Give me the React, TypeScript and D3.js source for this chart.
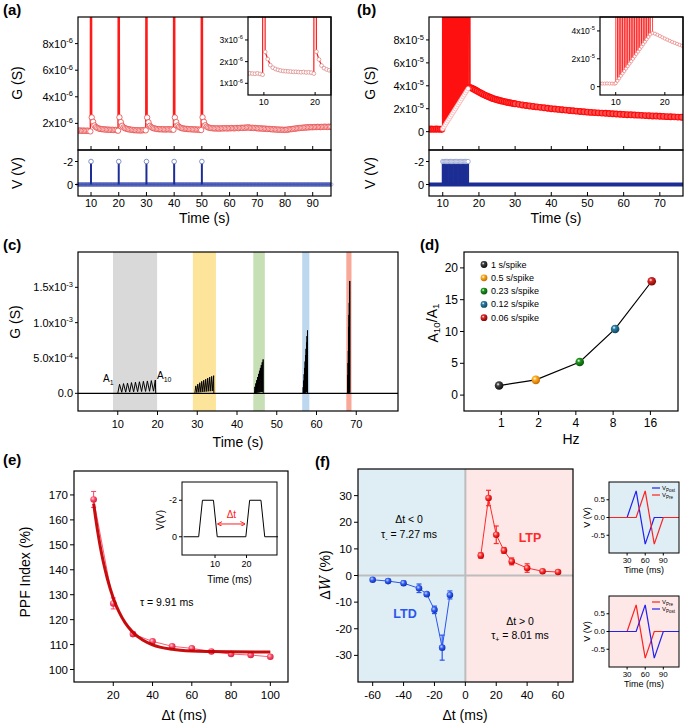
import * as d3 from 'd3'

type P = [number, number]

const FONT = "'Liberation Sans', Arial, Helvetica, sans-serif"

// ---------- (a) single spikes every 10 s ----------
const aSpikeTimes = [10, 20, 30, 40, 50]
const aSampleStart = 5.25
const aSampleStep = 0.5
// conductance, units of 1e-6 S
const aConductance = [
  1.46, 1.45, 1.47, 1.44, 1.46, 1.45, 1.44, 1.46, 1.43, 1.40,
  2.45, 2.12, 1.84, 1.72, 1.66, 1.62, 1.59, 1.57, 1.56, 1.55,
  1.54, 1.53, 1.53, 1.52, 1.51, 1.52, 1.50, 1.51, 1.49, 1.45,
  2.46, 2.10, 1.82, 1.70, 1.64, 1.60, 1.57, 1.55, 1.53, 1.52,
  1.50, 1.49, 1.48, 1.49, 1.47, 1.48, 1.47, 1.49, 1.50, 1.48,
  2.44, 2.08, 1.82, 1.72, 1.66, 1.63, 1.60, 1.58, 1.57, 1.56,
  1.56, 1.55, 1.56, 1.54, 1.55, 1.56, 1.55, 1.54, 1.55, 1.52,
  2.45, 2.10, 1.84, 1.74, 1.68, 1.64, 1.62, 1.60, 1.59, 1.58,
  1.57, 1.56, 1.56, 1.55, 1.54, 1.55, 1.53, 1.54, 1.52, 1.50,
  2.46, 2.12, 1.86, 1.76, 1.70, 1.67, 1.65, 1.64, 1.63, 1.62,
  1.62, 1.63, 1.61, 1.62, 1.63, 1.62, 1.64, 1.63, 1.62, 1.64,
  1.63, 1.65, 1.64, 1.63, 1.65, 1.66, 1.64, 1.66, 1.67, 1.66,
  1.68, 1.67, 1.69, 1.70, 1.68, 1.66, 1.67, 1.65, 1.66, 1.64,
  1.63, 1.62, 1.63, 1.61, 1.60, 1.61, 1.59, 1.58, 1.59, 1.57,
  1.56, 1.55, 1.56, 1.54, 1.53, 1.54, 1.52, 1.53, 1.52, 1.51,
  1.52, 1.53, 1.54, 1.56, 1.57, 1.58, 1.60, 1.61, 1.63, 1.64,
  1.65, 1.66, 1.67, 1.68, 1.69, 1.70, 1.70, 1.71, 1.72, 1.71,
  1.72, 1.73, 1.72, 1.74, 1.73, 1.72, 1.74, 1.73, 1.75, 1.74,
  1.73, 1.75, 1.74, 1.75,
]
const aSpikeTop = 5e-5 // off scale
const pulseV = -2

// ---------- (b) spike train, 10 - 17 s ----------
const bBaseTimes = [6.25, 6.75, 7.25, 7.75, 8.25, 8.75, 9.25, 9.75]
const bBaseG = [0.22, 0.23, 0.22, 0.22, 0.23, 0.22, 0.22, 0.21] // 1e-5 S
const bTrainStart = 10
const bTrainStep = 0.35
const bTrainG = [
  0.25, 0.42, 0.6, 0.78, 0.95, 1.12, 1.3, 1.47, 1.65, 1.82, 2.0,
  2.17, 2.35, 2.52, 2.7, 2.87, 3.05, 3.22, 3.4, 3.57, 3.75,
]
const bDecayTimes = [...d3.range(17.5, 30.01, 0.5), ...d3.range(31, 76.5, 1)]
const bDecayG = [
  3.85, 3.8, 3.72, 3.63, 3.54, 3.45, 3.37, 3.29, 3.21, 3.14, 3.07, 3.0, 2.94,
  2.88, 2.83, 2.78, 2.74, 2.7, 2.66, 2.62, 2.59, 2.55, 2.52, 2.49, 2.46, 2.43,
  2.38, 2.33, 2.28, 2.24, 2.2, 2.16, 2.12, 2.08, 2.04, 2.0,
  1.97, 1.94, 1.91, 1.88, 1.85, 1.82, 1.79, 1.76, 1.73, 1.7,
  1.68, 1.66, 1.64, 1.62, 1.6, 1.58, 1.56, 1.54, 1.52, 1.5,
  1.48, 1.47, 1.45, 1.44, 1.42, 1.4, 1.39, 1.37, 1.36, 1.34,
  1.33, 1.31, 1.3, 1.29, 1.27, 1.26,
]
const bSpikeTop = 1e-3

// ---------- (c) trains at different rates ----------
const cTrainStart = [10, 29.4, 44.4, 56.6, 67.8]
const cTrainStep = [1, 0.5, 0.23, 0.12, 0.06]
// peaks / troughs, units of 1e-4 S
const cPeaks1 = [1.28, 1.38, 1.45, 1.52, 1.58, 1.64, 1.7, 1.75, 1.8, 1.88]
const cPeaks2 = [1.05, 1.3, 1.5, 1.7, 1.85, 2.0, 2.15, 2.3, 2.4, 2.5]
const cPeaks3 = [0.92, 1.4, 1.85, 2.3, 2.75, 3.2, 3.6, 4.0, 4.4, 4.8]
const cPeaks4 = [0.86, 1.8, 2.7, 3.6, 4.5, 5.4, 6.3, 7.2, 8.1, 8.9]
const cPeaks5 = [0.89, 2.6, 4.3, 6.0, 7.7, 9.4, 11.1, 12.8, 14.4, 15.9]
const cTroughs1 = [0.15, 0.17, 0.19, 0.21, 0.23, 0.25, 0.27, 0.29, 0.31]
const cTroughs2 = [0.1, 0.13, 0.16, 0.19, 0.22, 0.25, 0.28, 0.3, 0.32]
const cTroughs3 = [0.05, 0.08, 0.1, 0.12, 0.14, 0.16, 0.18, 0.2, 0.22]
const cTroughs4 = [0.04, 0.06, 0.08, 0.1, 0.12, 0.14, 0.16, 0.18, 0.2]
const cTroughs5 = [0.04, 0.06, 0.08, 0.1, 0.12, 0.14, 0.16, 0.18, 0.2]
const cBandFrom = [8.8, 28.9, 44.1, 56.4, 67.5]
const cBandTo = [19.9, 34.7, 47.0, 58.2, 68.8]
const cBandColors = ['#d9d9d9', '#fde49b', '#c6dfb5', '#bdd7ee', '#f8a898']

// ---------- (d) ratio vs rate ----------
const dLabels = ['1 s/spike', '0.5 s/spike', '0.23 s/spike', '0.12 s/spike', '0.06 s/spike']
const dHz = [0.96, 1.9, 4.3, 8.3, 16.4]
const dRatio = [1.5, 2.4, 5.2, 10.4, 17.9]
const dTicks = [1, 2, 4, 8, 16]
const dColors = ['#444444', '#ffb422', '#1f9a1f', '#2d7fa6', '#e02828']
const dDark = ['#0c0c0c', '#c86a00', '#0a520a', '#11465f', '#7a0606']

// ---------- (e) PPF ----------
const eDt = [10, 20, 30, 40, 50, 60, 70, 80, 90, 100]
const ePPF = [168.2, 126.5, 114.2, 111.3, 109.3, 108.5, 107.2, 106.2, 105.8, 105.1]
const eErr = [3.2, 2.2, 0.8, 0.7, 0.6, 0.6, 0.5, 0.6, 0.6, 0.5]
const eFitDt = [10, 11, 12, 13, 14, 15, 17, 20, 23, 26, 30, 35, 40, 50, 60, 70, 80, 100]
const eFit = [166.5, 160.8, 155.6, 150.9, 146.7, 142.9, 136.4, 128.7, 123.0, 118.8, 114.9, 111.8, 109.9, 108.1, 107.4, 107.2, 107.1, 107.0]
const ePulseT = [0, 4.8, 6.0, 9.5, 10.7, 19.8, 21.0, 24.6, 25.8, 30]
const ePulseV = [0, 0, -2, -2, 0, 0, -2, -2, 0, 0]

// ---------- (f) STDP ----------
const fLtdDt = [-60, -50, -40, -30, -25, -20, -15, -10]
const fLtdW = [-1.6, -2.1, -2.9, -4.8, -7.0, -12.9, -27.1, -7.3]
const fLtdErr = [0.4, 0.6, 0.8, 1.6, 0.6, 1.4, 4.7, 1.5]
const fLtpDt = [10, 15, 20, 25, 30, 40, 50, 60]
const fLtpW = [7.5, 29.1, 15.3, 9.4, 5.3, 2.8, 1.6, 1.3]
const fLtpErr = [1.0, 2.9, 3.3, 1.1, 1.3, 1.6, 0.5, 0.4]
// pulse shapes in the small insets
const wEarlyT = [30, 45, 60, 75, 90]
const wEarlyV = [0, 0.75, -0.75, 0, 0]
const wLateT = [0, 45, 60, 75, 90, 116]
const wLateV = [0, 0, 0.75, -0.75, 0, 0]

const BLUE = '#1c2e94'

function Sci({ m, e }: { m: string; e: string }) {
  return (
    <>
      {m}x10<tspan dy="-0.45em" fontSize="0.68em">{e}</tspan>
    </>
  )
}

function YLabel({ x, y, size = 14, children }: any) {
  return (
    <text transform={`translate(${x},${y}) rotate(-90)`} textAnchor="middle" dominantBaseline="central" fontSize={size}>
      {children}
    </text>
  )
}

function Frame({ x0, y0, x1, y1, w = 1.2 }: any) {
  return <rect x={x0} y={y0} width={x1 - x0} height={y1 - y0} fill="none" stroke="#000" strokeWidth={w} />
}

function XTicks({ x, y, ticks, len = 4, fs = 11, dy = 13, show = true, fmt = (t: number) => String(t) }: any) {
  return (
    <g>
      {ticks.map((t: number) => (
        <g key={t}>
          <line x1={x(t)} x2={x(t)} y1={y} y2={y + len} stroke="#000" strokeWidth={1} />
          {show && (
            <text x={x(t)} y={y + dy} textAnchor="middle" fontSize={fs}>
              {fmt(t)}
            </text>
          )}
        </g>
      ))}
    </g>
  )
}

function YTicks({ y, x, ticks, len = 3, fs = 11, gap = 2, fmt = (t: number) => String(t) }: any) {
  return (
    <g>
      {ticks.map((t: number) => (
        <g key={t}>
          <line x1={x} x2={x - len} y1={y(t)} y2={y(t)} stroke="#000" strokeWidth={1} />
          <text x={x - len - gap} y={y(t)} textAnchor="end" dominantBaseline="central" fontSize={fs}>
            {fmt(t)}
          </text>
        </g>
      ))}
    </g>
  )
}

function PanelA() {
  const L = 78, R = 331, T = 17, M = 150, B = 196
  const x = d3.scaleLinear().domain([5.3, 96.6]).range([L, R])
  const yG = d3.scaleLinear().domain([0, 1e-5]).range([M, T])
  const yV = d3.scaleLinear().domain([-3, 1]).range([M, B])
  const samples: P[] = aConductance.map((g, i) => [aSampleStart + i * aSampleStep, g * 1e-6])
  const trace = [...samples, ...aSpikeTimes.map((t) => [t, aSpikeTop] as P)].sort((p, q) => p[0] - q[0])
  const gLine = d3.line<P>().x((d) => x(d[0])).y((d) => yG(d[1]))
  const iL = 248, iB = 95
  const xi = d3.scaleLinear().domain([6.9, 23.1]).range([iL, R])
  const yi = d3.scaleLinear().domain([0.46e-6, 4.06e-6]).range([iB, T])
  const iLine = d3.line<P>().x((d) => xi(d[0])).y((d) => yi(d[1]))
  return (
    <g>
      <defs>
        <clipPath id="clipA"><rect x={L} y={T} width={R - L} height={M - T} /></clipPath>
        <clipPath id="clipAi"><rect x={iL} y={T} width={R - iL} height={iB - T} /></clipPath>
      </defs>
      <text x={3} y={15} fontSize={15} fontWeight="bold">(a)</text>
      <g clipPath="url(#clipA)">
        <path d={gLine(trace) ?? ''} fill="none" stroke="#ff1a1a" strokeWidth={1.4} />
        {samples.map(([t, g], i) => (
          <circle key={i} cx={x(t)} cy={yG(g)} r={2.7} fill="#fff" stroke="#e84444" strokeWidth={0.8} />
        ))}
      </g>
      <XTicks x={x} y={M} ticks={d3.range(10, 91, 10)} len={-4} show={false} />
      <YTicks y={yG} x={L} ticks={[2e-6, 4e-6, 6e-6, 8e-6]} fmt={(t: number) => <Sci m={String(Math.round(t * 1e6))} e="-6" />} />
      {/* inset */}
      <rect x={iL} y={T} width={R - iL} height={iB - T} fill="#fff" />
      <g clipPath="url(#clipAi)">
        <path d={iLine(trace) ?? ''} fill="none" stroke="#ff1a1a" strokeWidth={1.2} />
        {samples.map(([t, g], i) => (
          <circle key={i} cx={xi(t)} cy={yi(g)} r={1.9} fill="#fff" stroke="#d88080" strokeWidth={0.7} />
        ))}
      </g>
      <Frame x0={iL} y0={T} x1={R} y1={iB} />
      <XTicks x={xi} y={iB} ticks={[10, 20]} len={-3} fs={9} dy={10} />
      <YTicks y={yi} x={iL} ticks={[1e-6, 2e-6, 3e-6]} fs={8.5} fmt={(t: number) => <Sci m={String(Math.round(t * 1e6))} e="-6" />} />
      {/* voltage */}
      <line x1={L} x2={R} y1={yV(0)} y2={yV(0)} stroke={BLUE} strokeWidth={4} />
      {samples.map(([t], i) => (
        <circle key={i} cx={x(t)} cy={yV(0)} r={1.7} fill="none" stroke="#6a7acb" strokeWidth={0.5} />
      ))}
      {aSpikeTimes.map((t) => (
        <g key={t}>
          <line x1={x(t)} x2={x(t)} y1={yV(0)} y2={yV(pulseV)} stroke={BLUE} strokeWidth={2} />
          <circle cx={x(t)} cy={yV(pulseV)} r={2.3} fill="#fff" stroke="#6677bb" strokeWidth={0.8} />
        </g>
      ))}
      <YTicks y={yV} x={L} ticks={[-2, 0]} />
      <Frame x0={L} y0={T} x1={R} y1={M} />
      <Frame x0={L} y0={M} x1={R} y1={B} />
      <XTicks x={x} y={B} ticks={d3.range(10, 91, 10)} len={-4} dy={11} />
      <text x={(L + R) / 2} y={223} textAnchor="middle" fontSize={14}>Time (s)</text>
      <YLabel x={17} y={83}>G (S)</YLabel>
      <YLabel x={17} y={173}>V (V)</YLabel>
    </g>
  )
}

function PanelB() {
  const L = 429, R = 683, T = 17, M = 150, B = 196
  const x = d3.scaleLinear().domain([6.2, 76.4]).range([L, R])
  const yG = d3.scaleLinear().domain([-1.6e-5, 1e-4]).range([M, T])
  const yV = d3.scaleLinear().domain([-3, 1]).range([M, B])
  const trainT = bTrainG.map((_, i) => bTrainStart + i * bTrainStep)
  const base: P[] = bBaseTimes.map((t, i) => [t, bBaseG[i] * 1e-5])
  const rise: P[] = bTrainG.map((g, i) => [trainT[i], g * 1e-5])
  const decay: P[] = bDecayTimes.map((t, i) => [t, bDecayG[i] * 1e-5])
  const trace: P[] = [...base]
  rise.forEach((p) => {
    trace.push(p)
    trace.push([p[0] + 0.08, bSpikeTop])
  })
  trace.push(...decay)
  const gLine = d3.line<P>().x((d) => x(d[0])).y((d) => yG(d[1]))
  const iL = 600, iB = 95
  const xi = d3.scaleLinear().domain([6.8, 23.7]).range([iL, R])
  const yi = d3.scaleLinear().domain([-0.6e-5, 5e-5]).range([iB, T])
  const iLine = d3.line<P>().x((d) => xi(d[0])).y((d) => yi(d[1]))
  const fmtG = (t: number) => (t === 0 ? '0' : <Sci m={String(Math.round(t * 1e5))} e="-5" />)
  return (
    <g>
      <defs>
        <clipPath id="clipB"><rect x={L} y={T} width={R - L} height={M - T} /></clipPath>
        <clipPath id="clipBi"><rect x={iL} y={T} width={R - iL} height={iB - T} /></clipPath>
      </defs>
      <text x={357} y={15} fontSize={15} fontWeight="bold">(b)</text>
      <g clipPath="url(#clipB)">
        <path d={gLine(trace) ?? ''} fill="none" stroke="#ff1010" strokeWidth={1.7} />
        {[...base, ...decay].map(([t, g], i) => (
          <circle key={i} cx={x(t)} cy={yG(g)} r={2.9} fill="#ff5050" stroke="#ff0a0a" strokeWidth={1.1} />
        ))}
        {rise.map(([t, g], i) => (
          <circle key={i} cx={x(t)} cy={yG(g)} r={2.2} fill="#fff" stroke="#f4a0a0" strokeWidth={0.6} />
        ))}
      </g>
      <XTicks x={x} y={M} ticks={d3.range(10, 71, 10)} len={-4} show={false} />
      <YTicks y={yG} x={L} ticks={[0, 2e-5, 4e-5, 6e-5, 8e-5]} fmt={fmtG} />
      {/* inset */}
      <rect x={iL} y={T} width={R - iL} height={iB - T} fill="#fff" />
      <g clipPath="url(#clipBi)">
        <path d={iLine(trace) ?? ''} fill="none" stroke="#ff1a1a" strokeWidth={0.8} />
        {[...base, ...rise, ...decay].map(([t, g], i) => (
          <circle key={i} cx={xi(t)} cy={yi(g)} r={1.6} fill="#fff" stroke="#e86a6a" strokeWidth={0.6} />
        ))}
      </g>
      <Frame x0={iL} y0={T} x1={R} y1={iB} />
      <XTicks x={xi} y={iB} ticks={[10, 20]} len={-3} fs={9} dy={10} />
      <YTicks y={yi} x={iL} ticks={[0, 2e-5, 4e-5]} fs={8.5} fmt={fmtG} />
      {/* voltage */}
      <line x1={L} x2={R} y1={yV(0)} y2={yV(0)} stroke={BLUE} strokeWidth={4} />
      {trainT.map((t) => (
        <line key={t} x1={x(t)} x2={x(t)} y1={yV(0)} y2={yV(pulseV)} stroke={BLUE} strokeWidth={2} />
      ))}
      {trainT.map((t) => (
        <circle key={t} cx={x(t)} cy={yV(pulseV)} r={2.2} fill="#fff" stroke="#8090c8" strokeWidth={0.7} />
      ))}
      <YTicks y={yV} x={L} ticks={[-2, 0]} />
      <Frame x0={L} y0={T} x1={R} y1={M} />
      <Frame x0={L} y0={M} x1={R} y1={B} />
      <XTicks x={x} y={B} ticks={d3.range(10, 71, 10)} len={-4} dy={11} />
      <text x={(L + R) / 2} y={223} textAnchor="middle" fontSize={14}>Time (s)</text>
      <YLabel x={370} y={83}>G (S)</YLabel>
      <YLabel x={370} y={173}>V (V)</YLabel>
    </g>
  )
}

function trainPoints(start: number, step: number, peaks: number[], troughs: number[]): P[] {
  const pts: P[] = [[start, 0]]
  peaks.forEach((p, i) => {
    pts.push([start + i * step + 0.45 * step, p * 1e-4])
    if (i < troughs.length) pts.push([start + (i + 1) * step, troughs[i] * 1e-4])
  })
  const last = pts[pts.length - 1][0]
  pts.push([last + 0.1 * step, 0])
  return pts
}

function PanelC() {
  const L = 78, R = 398, T = 252, B = 411
  const x = d3.scaleLinear().domain([0, 80.5]).range([L, R])
  const y = d3.scaleLinear().domain([-2.5e-4, 2e-3]).range([B, T])
  const peaks = [cPeaks1, cPeaks2, cPeaks3, cPeaks4, cPeaks5]
  const troughs = [cTroughs1, cTroughs2, cTroughs3, cTroughs4, cTroughs5]
  const line = d3.line<P>().x((d) => x(d[0])).y((d) => y(d[1]))
  const fmt = (t: number) => {
    if (t === 0) return '0.0'
    const e = Math.floor(Math.log10(t) + 1e-9)
    return <Sci m={(t / 10 ** e).toFixed(1)} e={String(e)} />
  }
  return (
    <g>
      <text x={3} y={250} fontSize={15} fontWeight="bold">(c)</text>
      {cBandFrom.map((f, i) => (
        <rect key={i} x={x(f)} y={T} width={x(cBandTo[i]) - x(f)} height={B - T} fill={cBandColors[i]} />
      ))}
      <line x1={L} x2={R} y1={y(0)} y2={y(0)} stroke="#000" strokeWidth={1.3} />
      {cTrainStart.map((s, i) => (
        <path key={i} d={line(trainPoints(s, cTrainStep[i], peaks[i], troughs[i])) ?? ''} fill="none" stroke="#000" strokeWidth={1} strokeLinejoin="miter" />
      ))}
      <text x={103} y={382} fontSize={10}>A<tspan dy={3} fontSize={7}>1</tspan></text>
      <text x={157} y={379} fontSize={10}>A<tspan dy={3} fontSize={7}>10</tspan></text>
      <Frame x0={L} y0={T} x1={R} y1={B} />
      <XTicks x={x} y={B} ticks={d3.range(10, 71, 10)} len={4} dy={17} />
      <YTicks y={y} x={L} ticks={[0, 5e-4, 1e-3, 1.5e-3]} fmt={fmt} />
      <text x={(L + R) / 2} y={447} textAnchor="middle" fontSize={14}>Time (s)</text>
      <YLabel x={15} y={322}>G (S)</YLabel>
    </g>
  )
}

function PanelD() {
  const L = 464, R = 678, T = 252, B = 411
  const x = d3.scaleLog().base(2).domain([0.5, 2 ** 4.74]).range([L, R])
  const y = d3.scaleLinear().domain([-2.5, 22.5]).range([B, T])
  const line = d3.line<number>().x((_, i) => x(dHz[i])).y((d) => y(d))
  return (
    <g>
      <defs>
        {dColors.map((c, i) => (
          <radialGradient key={i} id={`sph${i}`} cx="38%" cy="35%" r="65%">
            <stop offset="0%" stopColor="#ffffff" stopOpacity={0.9} />
            <stop offset="30%" stopColor={c} />
            <stop offset="100%" stopColor={dDark[i]} />
          </radialGradient>
        ))}
      </defs>
      <text x={420} y={250} fontSize={15} fontWeight="bold">(d)</text>
      <path d={line(dRatio) ?? ''} fill="none" stroke="#000" strokeWidth={1.2} />
      {dRatio.map((v, i) => (
        <circle key={i} cx={x(dHz[i])} cy={y(v)} r={4.3} fill={`url(#sph${i})`} />
      ))}
      {dLabels.map((s, i) => (
        <g key={s}>
          <circle cx={484} cy={264.5 + 13.3 * i} r={3.4} fill={`url(#sph${i})`} />
          <text x={491} y={264.5 + 13.3 * i} dominantBaseline="central" fontSize={9}>{s}</text>
        </g>
      ))}
      <Frame x0={L} y0={T} x1={R} y1={B} />
      <XTicks x={x} y={B} ticks={dTicks} len={4} fs={12} dy={16} />
      <YTicks y={y} x={L} ticks={[0, 5, 10, 15, 20]} fs={12} len={4} />
      <text x={571} y={444} textAnchor="middle" fontSize={14}>Hz</text>
      <YLabel x={433} y={323}>
        A<tspan dy="0.3em" fontSize="0.7em">10</tspan>
        <tspan dy="-0.3em">/A</tspan>
        <tspan dy="0.3em" fontSize="0.7em">1</tspan>
      </YLabel>
    </g>
  )
}

function PanelE() {
  const L = 74, R = 288, T = 471, B = 682
  const x = d3.scaleLinear().domain([0, 109]).range([L, R])
  const y = d3.scaleLinear().domain([95, 179.6]).range([B, T])
  const dataLine = d3.line<number>().x((_, i) => x(eDt[i])).y((d) => y(d))
  const fitLine = d3.line<number>().x((_, i) => x(eFitDt[i])).y((d) => y(d)).curve(d3.curveMonotoneX)
  const iL = 182, iR = 277, iT = 482, iB = 555
  const xi = d3.scaleLinear().domain([-0.5, 29.7]).range([iL, iR])
  const yi = d3.scaleLinear().domain([-3, 1]).range([iT, iB])
  const pulse = d3.line<number>().x((_, i) => xi(ePulseT[i])).y((d) => yi(d))
  return (
    <g>
      <defs>
        <radialGradient id="sphE" cx="38%" cy="35%" r="65%">
          <stop offset="0%" stopColor="#ffd0d8" />
          <stop offset="45%" stopColor="#ff4d6a" />
          <stop offset="100%" stopColor="#d0203c" />
        </radialGradient>
        <marker id="arrE" viewBox="0 0 10 10" refX="9" refY="5" markerWidth="5" markerHeight="5" orient="auto-start-reverse">
          <path d="M0,0 L10,5 L0,10" fill="none" stroke="#ff2020" strokeWidth={2} />
        </marker>
      </defs>
      <text x={3} y={465} fontSize={15} fontWeight="bold">(e)</text>
      <path d={dataLine(ePPF) ?? ''} fill="none" stroke="#ff5a74" strokeWidth={1} />
      {ePPF.map((v, i) => (
        <g key={i} stroke="#ff4060" strokeWidth={1}>
          <line x1={x(eDt[i])} x2={x(eDt[i])} y1={y(v - eErr[i])} y2={y(v + eErr[i])} />
          <line x1={x(eDt[i]) - 2.5} x2={x(eDt[i]) + 2.5} y1={y(v + eErr[i])} y2={y(v + eErr[i])} />
          <line x1={x(eDt[i]) - 2.5} x2={x(eDt[i]) + 2.5} y1={y(v - eErr[i])} y2={y(v - eErr[i])} />
        </g>
      ))}
      {ePPF.map((v, i) => (
        <circle key={i} cx={x(eDt[i])} cy={y(v)} r={3.3} fill="url(#sphE)" />
      ))}
      <path d={fitLine(eFit) ?? ''} fill="none" stroke="#c40000" strokeWidth={3} opacity={0.95} />
      <text x={140} y={606} fontSize={10.5}>τ = 9.91 ms</text>
      <Frame x0={L} y0={T} x1={R} y1={B} />
      <XTicks x={x} y={B} ticks={[20, 40, 60, 80, 100]} len={4} fs={11.5} dy={17} />
      <YTicks y={y} x={L} ticks={d3.range(100, 171, 10)} fs={11.5} len={4} />
      <text x={184} y={720} textAnchor="middle" fontSize={14}>Δt (ms)</text>
      <YLabel x={25} y={572}>PPF Index (%)</YLabel>
      {/* inset: pulse pair */}
      <rect x={iL} y={iT} width={iR - iL} height={iB - iT} fill="#fff" />
      <path d={pulse(ePulseV) ?? ''} fill="none" stroke="#000" strokeWidth={1} />
      <line x1={xi(10.6) + 1} x2={xi(19.8) - 1} y1={yi(-0.7)} y2={yi(-0.7)} stroke="#ff2020" strokeWidth={1} markerStart="url(#arrE)" markerEnd="url(#arrE)" />
      <text x={xi(15.2)} y={518} textAnchor="middle" fontSize={10} fill="#ff2020">Δt</text>
      <Frame x0={iL} y0={iT} x1={iR} y1={iB} w={1} />
      <XTicks x={xi} y={iB} ticks={[10, 20]} len={3} fs={9} dy={12} />
      <YTicks y={yi} x={iL} ticks={[-2, 0]} fs={9} len={3} />
      <text x={(iL + iR) / 2} y={583} textAnchor="middle" fontSize={10}>Time (ms)</text>
      <YLabel x={160} y={520} size={10}>V(V)</YLabel>
    </g>
  )
}

function PanelF() {
  const L = 358, R = 573, T = 469, B = 682
  const x = d3.scaleLinear().domain([-69.5, 69.7]).range([L, R])
  const y = d3.scaleLinear().domain([-40, 40]).range([B, T])
  const mk = (ts: number[]) => d3.line<number>().x((_, i) => x(ts[i])).y((d) => y(d))
  const series = [
    { t: fLtdDt, w: fLtdW, e: fLtdErr, c: '#2a55ee', g: 'sphL' },
    { t: fLtpDt, w: fLtpW, e: fLtpErr, c: '#ff2a2a', g: 'sphP' },
  ]
  return (
    <g>
      <defs>
        <radialGradient id="sphL" cx="38%" cy="35%" r="65%">
          <stop offset="0%" stopColor="#c8d4ff" />
          <stop offset="45%" stopColor="#2f5cf0" />
          <stop offset="100%" stopColor="#1030b0" />
        </radialGradient>
        <radialGradient id="sphP" cx="38%" cy="35%" r="65%">
          <stop offset="0%" stopColor="#ffd0d0" />
          <stop offset="45%" stopColor="#ff3030" />
          <stop offset="100%" stopColor="#c00000" />
        </radialGradient>
      </defs>
      <text x={315} y={467} fontSize={15} fontWeight="bold">(f)</text>
      <rect x={L} y={T} width={x(0) - L} height={B - T} fill="#deeef4" />
      <rect x={x(0)} y={T} width={R - x(0)} height={B - T} fill="#fde7e7" />
      <line x1={x(0)} x2={x(0)} y1={T} y2={B} stroke="#bdbdbd" strokeWidth={2} />
      <line x1={L} x2={R} y1={y(0)} y2={y(0)} stroke="#bdbdbd" strokeWidth={2} />
      {series.map((s, k) => (
        <g key={k}>
          <path d={mk(s.t)(s.w) ?? ''} fill="none" stroke={s.c} strokeWidth={1} />
          {s.w.map((v, i) => (
            <g key={i} stroke={s.c} strokeWidth={1.2}>
              <line x1={x(s.t[i])} x2={x(s.t[i])} y1={y(v - s.e[i])} y2={y(v + s.e[i])} />
              <line x1={x(s.t[i]) - 2.5} x2={x(s.t[i]) + 2.5} y1={y(v + s.e[i])} y2={y(v + s.e[i])} />
              <line x1={x(s.t[i]) - 2.5} x2={x(s.t[i]) + 2.5} y1={y(v - s.e[i])} y2={y(v - s.e[i])} />
            </g>
          ))}
          {s.w.map((v, i) => (
            <circle key={i} cx={x(s.t[i])} cy={y(v)} r={3.3} fill={`url(#${s.g})`} />
          ))}
        </g>
      ))}
      <text x={409} y={523} textAnchor="middle" fontSize={10.5}>Δt &lt; 0</text>
      <text x={409} y={538} textAnchor="middle" fontSize={10.5}>
        τ<tspan dy={2.5} fontSize={7}>-</tspan><tspan dy={-2.5}> = 7.27 ms</tspan>
      </text>
      <text x={530} y={542} textAnchor="middle" fontSize={12.5} fontWeight="bold" fill="#ff2a2a">LTP</text>
      <text x={405} y={618} textAnchor="middle" fontSize={12.5} fontWeight="bold" fill="#2a55ee">LTD</text>
      <text x={520} y={625} textAnchor="middle" fontSize={10.5}>Δt &gt; 0</text>
      <text x={520} y={639} textAnchor="middle" fontSize={10.5}>
        τ<tspan dy={2.5} fontSize={7}>+</tspan><tspan dy={-2.5}> = 8.01 ms</tspan>
      </text>
      <Frame x0={L} y0={T} x1={R} y1={B} />
      <XTicks x={x} y={B} ticks={d3.range(-60, 61, 20)} len={4} fs={11.5} dy={17} />
      <YTicks y={y} x={L} ticks={d3.range(-30, 31, 10)} fs={11.5} len={4} />
      <text x={465} y={720} textAnchor="middle" fontSize={14}>Δt (ms)</text>
      <YLabel x={325} y={575}>
        Δ<tspan fontStyle="italic" fontFamily="'DejaVu Serif', serif">W</tspan> (%)
      </YLabel>
    </g>
  )
}

function PulseInset({ top, bg, firstColor, secondColor, legend }: any) {
  const L = 609, R = 679, T = top, B = top + 71
  const x = d3.scaleLinear().domain([0, 116]).range([L, R])
  const y = d3.scaleLinear().domain([-1, 1]).range([B, T])
  const line = (ts: number[]) => d3.line<number>().x((_, i) => x(ts[i])).y((d) => y(d))
  return (
    <g>
      <rect x={L} y={T} width={R - L} height={B - T} fill={bg} />
      <path d={line(wEarlyT)(wEarlyV) ?? ''} fill="none" stroke={firstColor} strokeWidth={1.2} />
      <path d={line(wLateT)(wLateV) ?? ''} fill="none" stroke={secondColor} strokeWidth={1.2} />
      {legend.map((lg: any, i: number) => (
        <g key={i}>
          <line x1={652} x2={660} y1={T + 6 + 7 * i} y2={T + 6 + 7 * i} stroke={lg.c} strokeWidth={1.2} />
          <text x={662} y={T + 6 + 7 * i} dominantBaseline="central" fontSize={6}>
            V<tspan dy={1.5} fontSize={4.5}>{lg.s}</tspan>
          </text>
        </g>
      ))}
      <Frame x0={L} y0={T} x1={R} y1={B} w={1} />
      <XTicks x={x} y={B} ticks={[30, 60, 90]} len={2.5} fs={8} dy={10} />
      <YTicks y={y} x={L} ticks={[-0.5, 0, 0.5]} fs={8} len={2.5} gap={1.5} fmt={(t: number) => t.toFixed(1)} />
      <text x={(L + R) / 2} y={B + 20} textAnchor="middle" fontSize={9}>Time (ms)</text>
      <YLabel x={587} y={(T + B) / 2} size={9}>V (V)</YLabel>
    </g>
  )
}

export default function App() {
  return (
    <svg
      width={685}
      height={726}
      viewBox="0 0 685 726"
      fontFamily={FONT}
      style={{ position: 'absolute', left: 0, top: 0, background: '#fff' }}
    >
      <PanelA />
      <PanelB />
      <PanelC />
      <PanelD />
      <PanelE />
      <PanelF />
      <PulseInset
        top={482}
        bg="#deeef4"
        firstColor="#2020f0"
        secondColor="#ff2020"
        legend={[{ c: '#2020f0', s: 'Post' }, { c: '#ff2020', s: 'Pre' }]}
      />
      <PulseInset
        top={596}
        bg="#fde7e7"
        firstColor="#ff2020"
        secondColor="#2020f0"
        legend={[{ c: '#ff2020', s: 'Pre' }, { c: '#2020f0', s: 'Post' }]}
      />
    </svg>
  )
}
